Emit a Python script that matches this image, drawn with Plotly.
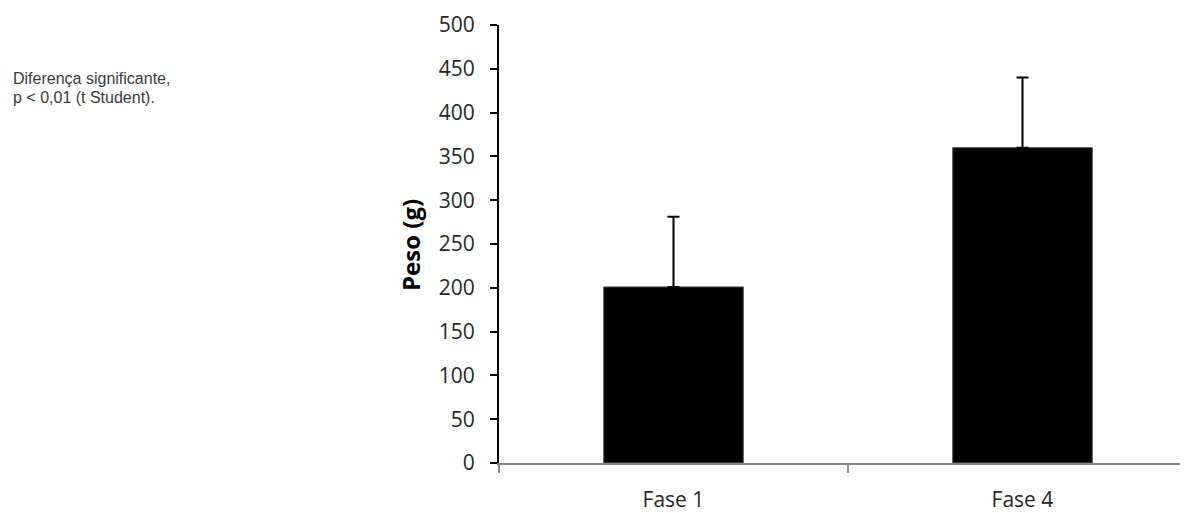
import plotly.graph_objects as go

categories = ["Fase 1", "Fase 4"]
values = [201, 360]
errors = [80, 80]
y_ticks = [0, 50, 100, 150, 200, 250, 300, 350, 400, 450, 500]
note_lines = ["Diferença significante,", "p < 0,01 (t Student)."]

# page has an 8px body margin; size the figure to fill the rest of the window
W, H = 1180, 505
left, top, bottom = 491, 17, 44
cat_px = 349.0

fig = go.Figure()
fig.add_trace(go.Bar(
    x=categories, y=values, width=0.4,
    marker=dict(color="black", line=dict(color="#555555", width=1)),
    error_y=dict(type="data", symmetric=False, array=errors,
                 arrayminus=[0 for _ in errors],
                 color="black", thickness=2, width=6),
    showlegend=False,
))

fig.update_layout(
    width=W, height=H,
    margin=dict(l=left, r=0, t=top, b=bottom),
    paper_bgcolor="white", plot_bgcolor="white",
    font=dict(family="Open Sans", color="#262626"),
)
fig.update_xaxes(
    type="category", range=[-0.5, -0.5 + (W - left) / cat_px],
    tickson="boundaries", ticks="outside", ticklen=8, tickwidth=2,
    tickcolor="#888888", showline=True, linecolor="#888888", linewidth=2,
    showgrid=False, tickfont=dict(size=21, family="Open Sans", color="#262626"),
    ticklabelstandoff=17,
)
fig.update_yaxes(
    range=[0, 500], tickvals=y_ticks, ticks="outside", ticklen=7,
    tickwidth=2, tickcolor="black", showline=True, linecolor="black",
    linewidth=2, showgrid=False, zeroline=False,
    tickfont=dict(size=21, family="Open Sans", color="#262626"),
    ticklabelstandoff=11,
)
fig.add_annotation(
    text="<b>Peso (g)</b>", textangle=-90, xref="paper", yref="paper",
    x=0, y=0.5, xanchor="center", yanchor="middle",
    xshift=-89, yshift=-1, showarrow=False,
    font=dict(size=24, family="Open Sans", color="black"),
)
for i, line in enumerate(note_lines):
    fig.add_annotation(
        text=line, xref="paper", yref="paper", x=0, y=1,
        xanchor="left", yanchor="middle",
        xshift=-488, yshift=-(53.5 + 19 * i), align="left", showarrow=False,
        font=dict(size=16, family="Liberation Sans", color="#3a3a3a"),
    )
fig.write_html("out.html")
